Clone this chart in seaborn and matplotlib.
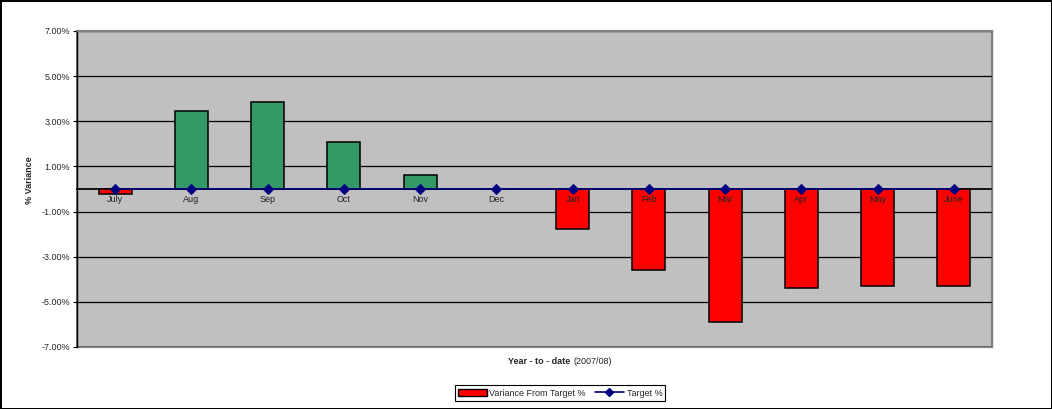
import numpy as np
import pandas as pd
import matplotlib
matplotlib.use("Agg")
import matplotlib.pyplot as plt
from matplotlib.patches import Patch
from matplotlib.lines import Line2D
from matplotlib.ticker import FuncFormatter, FixedLocator
import seaborn as sns

months = ["July", "Aug", "Sep", "Oct", "Nov", "Dec", "Jan", "Feb", "Mar", "Apr", "May", "June"]
variance = [-0.21, 3.47, 3.85, 2.08, 0.63, 0.0, -1.79, -3.60, -5.90, -4.39, -4.30, -4.30]
target = [0.0] * 12
yticks = [-7, -5, -3, -1, 1, 3, 5, 7]

sns.set_theme(style="white")
plt.rcParams["font.family"] = ["Liberation Sans", "DejaVu Sans"]

GREEN = "#339966"
RED = "#FF0000"
NAVY = "#000080"

df = pd.DataFrame({"month": months, "variance": variance, "target": target})
df["x"] = np.arange(len(months))
bar_colors = [GREEN if v > 0 else RED for v in variance]

fig = plt.figure(figsize=(10.52, 4.09), dpi=100)
fig.patch.set_edgecolor("black")
fig.patch.set_linewidth(1.0)
ax = fig.add_axes([77 / 1052, 1 - 347 / 409, (992 - 77) / 1052, (347 - 31) / 409])
ax.set_facecolor("#C0C0C0")

sns.barplot(data=df, x="month", y="variance", hue="month", palette=bar_colors,
            legend=False, width=0.43, edgecolor="black", linewidth=1.1,
            saturation=1, ax=ax, zorder=3)
sns.lineplot(data=df, x="x", y="target", color=NAVY, marker="D", markersize=5,
             markeredgecolor=NAVY, linewidth=1.2, ax=ax, zorder=4)

ax.set_ylim(-7, 7)
ax.set_xlim(-0.5, len(months) - 0.5)
ax.yaxis.set_major_locator(FixedLocator(yticks))
ax.yaxis.set_major_formatter(FuncFormatter(lambda v, p: f"{v:.2f}%"))
ax.grid(axis="y", color="black", linewidth=0.9, zorder=0)
ax.set_axisbelow(True)

ax.spines["bottom"].set_position(("data", 0))
ax.spines["bottom"].set_color("black")
ax.spines["bottom"].set_zorder(2)
for s in ["top", "right"]:
    ax.spines[s].set_color("#808080")
    ax.spines[s].set_linewidth(1.0)
ax.spines["left"].set_color("black")
ax.spines["left"].set_linewidth(1)
ax.patch.set_edgecolor("#808080")
ax.patch.set_linewidth(1.5)

# category labels drawn on top of bars, just below the zero line
ax.set_xticks(np.arange(len(months)))
ax.set_xticklabels([])
for i, m in enumerate(months):
    ax.annotate(m, xy=(i, 0), xytext=(0, -4), textcoords="offset points",
                ha="center", va="top", fontsize=6.5, color="#222222", zorder=10)
ax.set_xticks(np.arange(len(months) + 1) - 0.5, minor=True)
ax.tick_params(axis="x", which="major", length=0)
ax.tick_params(axis="x", which="minor", length=3, width=0.8, direction="out", color="black")
ax.tick_params(axis="y", length=3, width=0.8, direction="out", color="black",
               labelsize=6.5, pad=2, left=True)
ax.set_xlabel("")
ax.set_ylabel("")

fig.text(30 / 1052, 1 - 180 / 409, "% Variance", rotation=90, fontsize=6.5,
         fontweight="bold", ha="center", va="center")
fig.text(570 / 1052, 1 - 362 / 409, "Year - to - date", fontsize=6.5,
         fontweight="bold", ha="right", va="center")
fig.text(573 / 1052, 1 - 362 / 409, "(2007/08)", fontsize=6.5,
         ha="left", va="center")

handles = [Patch(facecolor=RED, edgecolor="black", linewidth=1),
           Line2D([0], [0], color=NAVY, marker="D", markersize=4, linewidth=1.2)]
leg = fig.legend(handles, ["Variance From Target %", "Target %"], loc="center",
                 bbox_to_anchor=(560 / 1052, 1 - 393 / 409), ncol=2, fontsize=6.5,
                 frameon=True, fancybox=False, edgecolor="black", framealpha=1,
                 handlelength=3.2, handleheight=0.7, handletextpad=0.3,
                 columnspacing=1.0, borderpad=0.35)
leg.get_frame().set_linewidth(0.8)

fig.savefig("out.png", dpi=100, facecolor="white", edgecolor=fig.get_edgecolor())
